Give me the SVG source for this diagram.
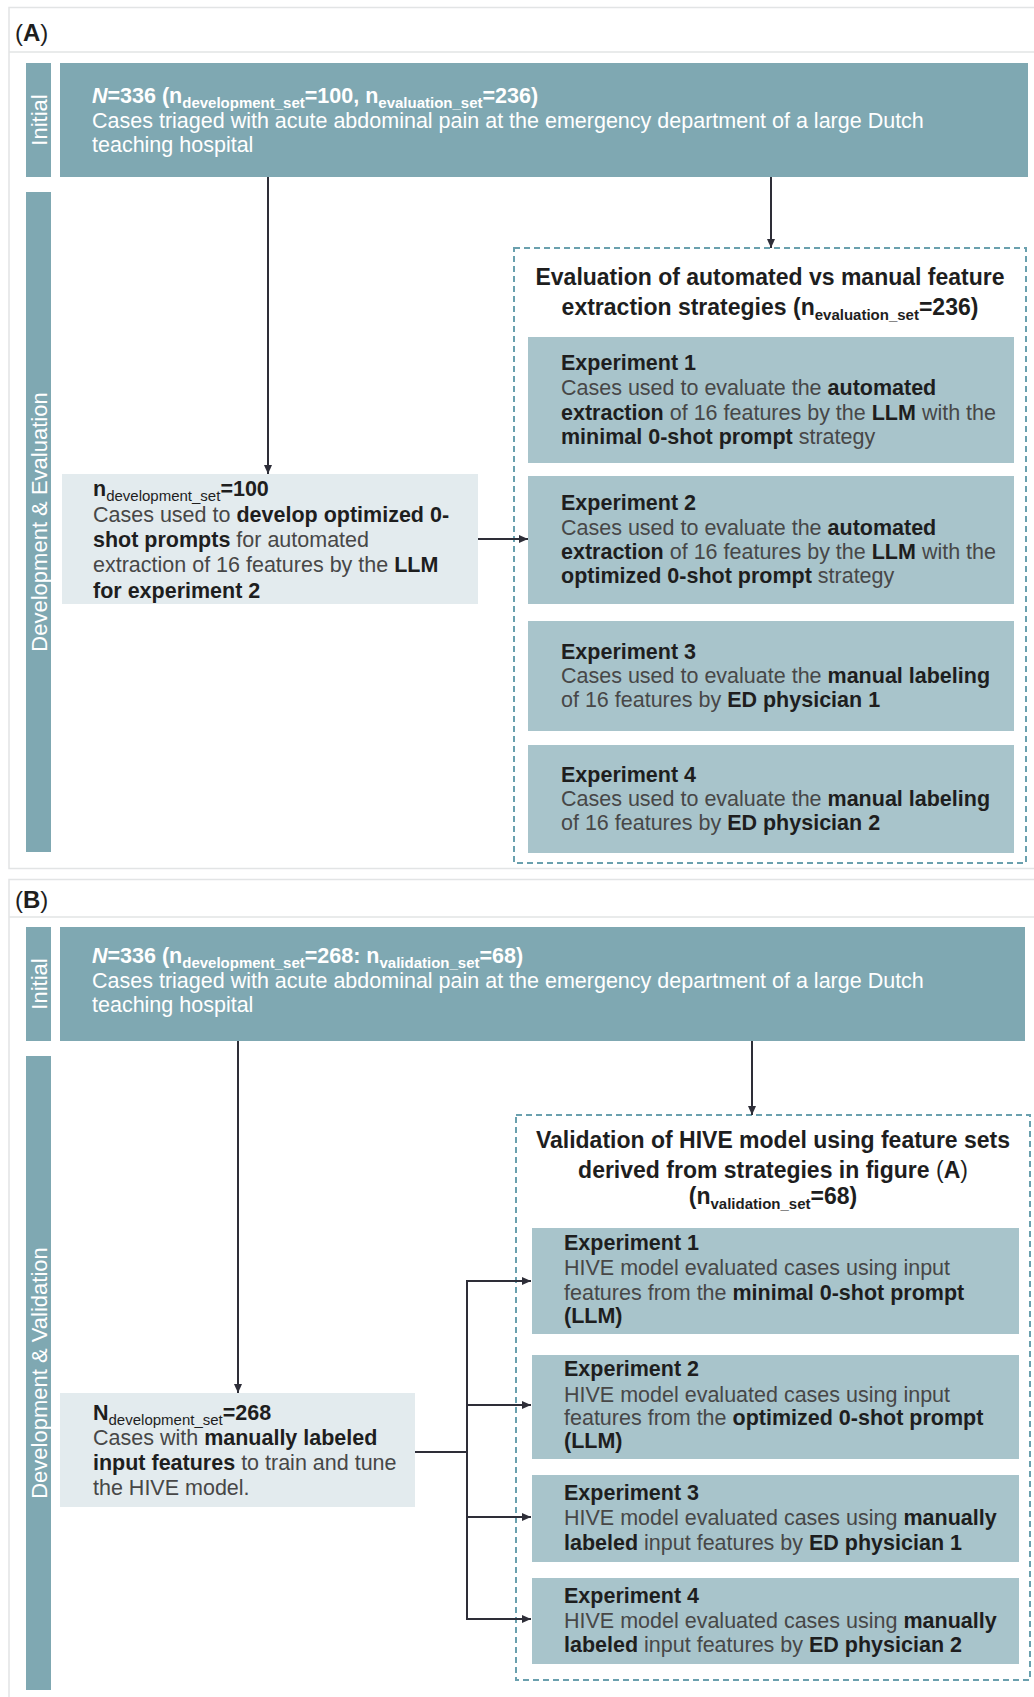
<svg xmlns="http://www.w3.org/2000/svg" width="1034" height="1697" viewBox="0 0 1034 1697">
<defs>
<style>
text{font-family:"Liberation Sans",Arial,sans-serif;font-size:21.5px;fill:#474747}
.b{font-weight:bold;fill:#1e1e1e}
.w{fill:#ffffff}
.wb{fill:#ffffff;font-weight:bold}
.s{font-size:15px}
.n{font-weight:normal}
.ttl{font-weight:bold;font-size:23px;fill:#1e1e1e;text-anchor:middle}
.lbl{font-size:24px;fill:#1e1e1e}
.side{fill:#ffffff;font-size:22px;text-anchor:middle}
.frame{fill:none;stroke:#e2e4e5;stroke-width:1.5}
.dark{fill:#7fa8b2}
.exp{fill:#a8c4cb}
.dev{fill:#e3ebee}
.dash{fill:none;stroke:#6aa0ae;stroke-width:2;stroke-dasharray:6 4}
.con{fill:none;stroke:#2e2e38;stroke-width:2}
</style>
<marker id="ah" markerUnits="userSpaceOnUse" markerWidth="10" markerHeight="8" refX="9" refY="4" orient="auto">
<path d="M0,0 L9,4 L0,8 z" fill="#2e2e38"/>
</marker>
</defs>
<rect width="1034" height="1697" fill="#ffffff"/>

<!-- Panel A -->
<g id="panelA">
<rect class="frame" x="9" y="7.5" width="1040" height="861"/>
<line class="frame" x1="9" y1="52" x2="1034" y2="52"/>
<text class="lbl" x="15" y="41">(<tspan font-weight="bold">A</tspan>)</text>
</g>
<g id="A-initial-bar">
<rect class="dark" x="26" y="63" width="25" height="114"/>
<text class="side" transform="translate(46.5,120) rotate(-90)">Initial</text>
</g>
<g id="A-initial">
<rect class="dark" x="60" y="63" width="968" height="114"/>
<text class="wb" x="92" y="103"><tspan font-style="italic">N</tspan>=336 (n<tspan class="s" dy="5">development_set</tspan><tspan dy="-5">=100, n</tspan><tspan class="s" dy="5">evaluation_set</tspan><tspan dy="-5">=236)</tspan></text>
<text class="w" x="92" y="128">Cases triaged with acute abdominal pain at the emergency department of a large Dutch</text>
<text class="w" x="92" y="152">teaching hospital</text>
</g>
<g id="A-dev-bar">
<rect class="dark" x="26" y="192" width="25" height="660"/>
<text class="side" transform="translate(46.5,522) rotate(-90)">Development &amp; Evaluation</text>
</g>
<g id="A-dev">
<rect class="dev" x="62" y="474" width="416" height="130"/>
<text x="93" y="496" class="b">n<tspan class="s n" dy="5">development_set</tspan><tspan dy="-5">=100</tspan></text>
<text x="93" y="522">Cases used to <tspan class="b">develop optimized 0-</tspan></text>
<text x="93" y="547"><tspan class="b">shot prompts</tspan> for automated</text>
<text x="93" y="572">extraction of 16 features by the <tspan class="b">LLM</tspan></text>
<text x="93" y="598" class="b">for experiment 2</text>
</g>
<g id="A-eval">
<rect class="dash" x="514" y="248" width="512" height="615"/>
<text class="ttl" x="770" y="285">Evaluation of automated vs manual feature</text>
<text class="ttl" x="770" y="315">extraction strategies (n<tspan class="s" dy="5">evaluation_set</tspan><tspan dy="-5">=236)</tspan></text>
</g>
<g id="A-exp1">
<rect class="exp" x="528" y="337" width="486" height="126"/>
<text class="b" x="561" y="370">Experiment 1</text>
<text x="561" y="395">Cases used to evaluate the <tspan class="b">automated</tspan></text>
<text x="561" y="420"><tspan class="b">extraction</tspan> of 16 features by the <tspan class="b">LLM</tspan> with the</text>
<text x="561" y="444"><tspan class="b">minimal 0-shot prompt</tspan> strategy</text>
</g>
<g id="A-exp2">
<rect class="exp" x="528" y="476" width="486" height="128"/>
<text class="b" x="561" y="510">Experiment 2</text>
<text x="561" y="535">Cases used to evaluate the <tspan class="b">automated</tspan></text>
<text x="561" y="559"><tspan class="b">extraction</tspan> of 16 features by the <tspan class="b">LLM</tspan> with the</text>
<text x="561" y="583"><tspan class="b">optimized 0-shot prompt</tspan> strategy</text>
</g>
<g id="A-exp3">
<rect class="exp" x="528" y="621" width="486" height="110"/>
<text class="b" x="561" y="659">Experiment 3</text>
<text x="561" y="683">Cases used to evaluate the <tspan class="b">manual labeling</tspan></text>
<text x="561" y="707">of 16 features by <tspan class="b">ED physician 1</tspan></text>
</g>
<g id="A-exp4">
<rect class="exp" x="528" y="745" width="486" height="108"/>
<text class="b" x="561" y="782">Experiment 4</text>
<text x="561" y="806">Cases used to evaluate the <tspan class="b">manual labeling</tspan></text>
<text x="561" y="830">of 16 features by <tspan class="b">ED physician 2</tspan></text>
</g>

<!-- Panel B -->
<g id="panelB">
<rect class="frame" x="9" y="879.5" width="1040" height="840"/>
<line class="frame" x1="9" y1="917" x2="1034" y2="917"/>
<text class="lbl" x="15" y="908">(<tspan font-weight="bold">B</tspan>)</text>
</g>
<g id="B-initial-bar">
<rect class="dark" x="26" y="927" width="25" height="114"/>
<text class="side" transform="translate(46.5,984) rotate(-90)">Initial</text>
</g>
<g id="B-initial">
<rect class="dark" x="60" y="927" width="965" height="114"/>
<text class="wb" x="92" y="963"><tspan font-style="italic">N</tspan>=336 (n<tspan class="s" dy="5">development_set</tspan><tspan dy="-5">=268: n</tspan><tspan class="s" dy="5">validation_set</tspan><tspan dy="-5">=68)</tspan></text>
<text class="w" x="92" y="988">Cases triaged with acute abdominal pain at the emergency department of a large Dutch</text>
<text class="w" x="92" y="1012">teaching hospital</text>
</g>
<g id="B-dev-bar">
<rect class="dark" x="26" y="1056" width="25" height="634"/>
<text class="side" transform="translate(46.5,1373) rotate(-90)">Development &amp; Validation</text>
</g>
<g id="B-dev">
<rect class="dev" x="60" y="1393" width="355" height="114"/>
<text x="93" y="1420" class="b">N<tspan class="s n" dy="5">development_set</tspan><tspan dy="-5">=268</tspan></text>
<text x="93" y="1445">Cases with <tspan class="b">manually labeled</tspan></text>
<text x="93" y="1470"><tspan class="b">input features</tspan> to train and tune</text>
<text x="93" y="1495">the HIVE model.</text>
</g>
<g id="B-val">
<rect class="dash" x="516" y="1115" width="514" height="565"/>
<text class="ttl" x="773" y="1148">Validation of HIVE model using feature sets</text>
<text class="ttl" x="773" y="1178">derived from strategies in figure <tspan font-weight="normal">(</tspan>A<tspan font-weight="normal">)</tspan></text>
<text class="ttl" x="773" y="1204">(n<tspan class="s" dy="5">validation_set</tspan><tspan dy="-5">=68)</tspan></text>
</g>
<g id="B-exp1">
<rect class="exp" x="532" y="1228" width="487" height="106"/>
<text class="b" x="564" y="1250">Experiment 1</text>
<text x="564" y="1275">HIVE model evaluated cases using input</text>
<text x="564" y="1300">features from the <tspan class="b">minimal 0-shot prompt</tspan></text>
<text x="564" y="1323" class="b">(LLM)</text>
</g>
<g id="B-exp2">
<rect class="exp" x="532" y="1355" width="487" height="104"/>
<text class="b" x="564" y="1376">Experiment 2</text>
<text x="564" y="1402">HIVE model evaluated cases using input</text>
<text x="564" y="1425">features from the <tspan class="b">optimized 0-shot prompt</tspan></text>
<text x="564" y="1448" class="b">(LLM)</text>
</g>
<g id="B-exp3">
<rect class="exp" x="532" y="1475" width="487" height="87"/>
<text class="b" x="564" y="1500">Experiment 3</text>
<text x="564" y="1525">HIVE model evaluated cases using <tspan class="b">manually</tspan></text>
<text x="564" y="1550"><tspan class="b">labeled</tspan> input features by <tspan class="b">ED physician 1</tspan></text>
</g>
<g id="B-exp4">
<rect class="exp" x="532" y="1578" width="487" height="86"/>
<text class="b" x="564" y="1603">Experiment 4</text>
<text x="564" y="1628">HIVE model evaluated cases using <tspan class="b">manually</tspan></text>
<text x="564" y="1652"><tspan class="b">labeled</tspan> input features by <tspan class="b">ED physician 2</tspan></text>
</g>

<g id="connectors">
<line class="con" x1="268" y1="177" x2="268" y2="474" marker-end="url(#ah)"/>
<line class="con" x1="771" y1="177" x2="771" y2="248" marker-end="url(#ah)"/>
<line class="con" x1="478" y1="539" x2="528" y2="539" marker-end="url(#ah)"/>
<line class="con" x1="238" y1="1041" x2="238" y2="1393" marker-end="url(#ah)"/>
<line class="con" x1="752" y1="1041" x2="752" y2="1115" marker-end="url(#ah)"/>
<polyline class="con" points="415,1452 467,1452"/>
<line class="con" x1="467" y1="1280" x2="467" y2="1620"/>
<line class="con" x1="466" y1="1281" x2="531" y2="1281" marker-end="url(#ah)"/>
<line class="con" x1="466" y1="1405" x2="531" y2="1405" marker-end="url(#ah)"/>
<line class="con" x1="466" y1="1517" x2="531" y2="1517" marker-end="url(#ah)"/>
<line class="con" x1="466" y1="1619" x2="531" y2="1619" marker-end="url(#ah)"/>
</g>
</svg>
